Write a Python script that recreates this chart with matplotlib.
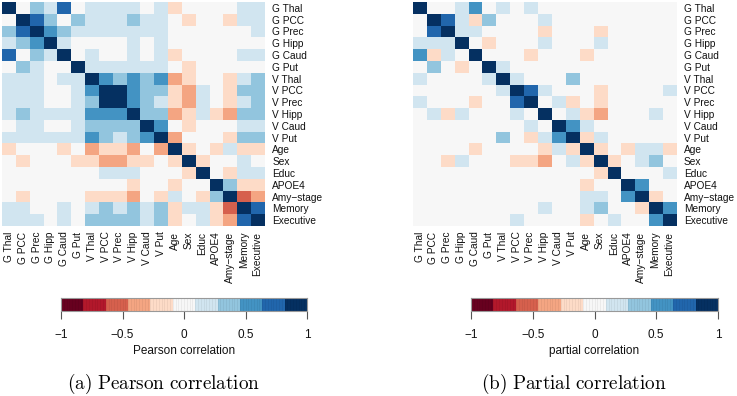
import numpy as np
import matplotlib
matplotlib.use("Agg")
import matplotlib.pyplot as plt
from matplotlib.colors import ListedColormap, BoundaryNorm

plt.rcParams['font.family'] = ['Liberation Sans', 'DejaVu Sans']
plt.rcParams['mathtext.fontset'] = 'cm'

labels = ["G Thal", "G PCC", "G Prec", "G Hipp", "G Caud", "G Put",
          "V Thal", "V PCC", "V Prec", "V Hipp", "V Caud", "V Put",
          "Age", "Sex", "Educ", "APOE4", "Amy\u2212stage", "Memory", "Executive"]

pearson = [
    [1.0, 0, .35, .2, .7, 0, .2, .2, .2, .2, 0, .2, -.2, 0, 0, 0, 0, .2, .2],
    [0, 1.0, .7, .35, 0, .35, .2, .2, .2, .35, .2, .2, 0, -.2, 0, 0, -.2, .2, .2],
    [.35, .7, 1.0, .55, .35, .2, .2, .2, .2, .2, .2, .2, 0, 0, 0, 0, 0, 0, .2],
    [.2, .35, .55, 1.0, .2, 0, 0, 0, 0, .2, 0, .2, 0, 0, 0, 0, 0, 0, 0],
    [.7, 0, .35, .2, 1.0, 0, .2, 0, 0, .2, 0, .2, -.2, 0, 0, 0, 0, .2, .2],
    [0, .35, .2, 0, 0, 1.0, .2, .2, .2, .2, .2, .2, 0, -.2, 0, 0, 0, 0, 0],
    [.2, .2, .2, 0, .2, .2, 1.0, .55, .35, .55, .35, .55, -.35, -.2, 0, 0, -.2, .2, .35],
    [.2, .2, .2, 0, 0, .2, .55, 1.0, .9, .55, .35, .35, -.2, -.35, .2, 0, -.2, .35, .35],
    [.2, .2, .2, 0, 0, .2, .35, .9, 1.0, .55, .35, .2, -.2, -.35, .2, 0, -.2, .2, .35],
    [.2, .35, .2, .2, .2, .2, .55, .55, .55, 1.0, .35, .35, -.35, -.2, .2, -.2, -.35, .35, .35],
    [0, .2, .2, 0, 0, .2, .35, .35, .35, .35, 1.0, .55, 0, -.2, 0, 0, 0, .2, .2],
    [.2, .2, .2, .2, .2, .2, .55, .35, .2, .35, .55, 1.0, -.35, 0, 0, 0, -.2, .35, .35],
    [-.2, 0, 0, 0, -.2, 0, -.35, -.2, -.2, -.35, 0, -.35, 1.0, -.2, 0, -.2, .2, -.2, -.2],
    [0, -.2, 0, 0, 0, -.2, -.2, -.35, -.35, -.2, -.2, 0, -.2, 1.0, -.2, 0, 0, .2, 0],
    [0, 0, 0, 0, 0, 0, 0, .2, .2, .2, 0, 0, 0, -.2, 1.0, 0, -.2, .2, .2],
    [0, 0, 0, 0, 0, 0, 0, 0, 0, -.2, 0, 0, -.2, 0, 0, 1.0, .35, -.2, -.2],
    [0, -.2, 0, 0, 0, 0, -.2, -.2, -.2, -.35, 0, -.2, .2, 0, -.2, .35, 1.0, -.55, -.35],
    [.2, .2, 0, 0, .2, 0, .2, .35, .2, .35, .2, .35, -.2, .2, .2, -.2, -.55, 1.0, .7],
    [.2, .2, .2, 0, .2, 0, .35, .35, .35, .35, .2, .35, -.2, 0, .2, -.2, -.35, .7, 1.0],
]

partial = [
    [1, 0, 0, .2, .55, 0, .2, 0, .2, 0, 0, 0, 0, 0, 0, 0, 0, 0, 0],
    [0, 1, .7, .2, -.2, .35, 0, 0, 0, .2, 0, 0, 0, 0, 0, 0, 0, 0, 0],
    [0, .7, 1, .2, .2, 0, 0, 0, 0, -.2, 0, 0, 0, -.2, 0, 0, 0, 0, 0],
    [.2, .2, .2, 1, 0, -.2, 0, 0, 0, .2, 0, 0, 0, .2, 0, 0, 0, 0, 0],
    [.55, -.2, .2, 0, 1, 0, 0, 0, -.2, 0, 0, 0, -.2, 0, 0, 0, 0, 0, 0],
    [0, .35, 0, -.2, 0, 1, .2, 0, 0, 0, 0, 0, 0, 0, 0, 0, 0, 0, 0],
    [.2, 0, 0, 0, 0, .2, 1, .2, 0, 0, 0, .35, 0, 0, 0, 0, 0, 0, 0],
    [0, 0, 0, 0, 0, 0, .2, 1, .7, .2, 0, 0, 0, -.2, 0, 0, 0, 0, .2],
    [.2, 0, 0, 0, -.2, 0, 0, .7, 1, 0, .2, -.2, 0, -.2, 0, 0, 0, 0, 0],
    [0, .2, -.2, .2, 0, 0, 0, .2, 0, 1, 0, .2, -.2, -.35, 0, 0, 0, .2, 0],
    [0, 0, 0, 0, 0, 0, 0, 0, .2, 0, 1, .55, .2, 0, 0, 0, 0, 0, 0],
    [0, 0, 0, 0, 0, 0, .35, 0, -.2, .2, .55, 1, -.2, .2, 0, 0, 0, 0, 0],
    [0, 0, 0, 0, -.2, 0, 0, 0, 0, -.2, .2, -.2, 1, -.2, 0, -.2, .2, .2, -.2],
    [0, 0, -.2, .2, 0, 0, 0, -.2, -.2, -.35, 0, .2, -.2, 1, -.2, 0, .2, .35, 0],
    [0, 0, 0, 0, 0, 0, 0, 0, 0, 0, 0, 0, 0, -.2, 1, 0, 0, 0, .2],
    [0, 0, 0, 0, 0, 0, 0, 0, 0, 0, 0, 0, -.2, 0, 0, 1, .55, 0, 0],
    [0, 0, 0, 0, 0, 0, 0, 0, 0, 0, 0, 0, .2, .2, 0, .55, 1, -.2, 0],
    [0, 0, 0, 0, 0, 0, 0, 0, 0, .2, 0, 0, .2, .35, 0, 0, -.2, 1, .55],
    [0, 0, 0, 0, 0, 0, 0, .2, 0, 0, 0, 0, -.2, 0, .2, 0, 0, .55, 1],
]

cbar_ticks = [-1, -0.5, 0, 0.5, 1]
cbar_ticklabels = ["\u22121", "\u22120.5", "0", "0.5", "1"]

colors = ["#67001F", "#B2182B", "#D6604D", "#F4A582", "#FDDBC7", "#F7F7F7",
          "#D1E5F0", "#92C5DE", "#4393C3", "#2166AC", "#053061"]
cmap = ListedColormap(colors)
bounds = np.linspace(-1, 1, 12)
norm = BoundaryNorm(bounds, cmap.N)

W, H = 737, 396
fig = plt.figure(figsize=(W / 100, H / 100), dpi=100)


def px(x0, y0, x1, y1):
    return [x0 / W, 1 - y1 / H, (x1 - x0) / W, (y1 - y0) / H]


def heat(rect, mat):
    ax = fig.add_axes(px(*rect))
    ax.imshow(np.array(mat), cmap=cmap, norm=norm, aspect='auto',
              interpolation='nearest')
    ax.set_xticks(range(len(labels)))
    ax.set_xticklabels(labels, rotation=90, fontsize=7.3, color='#111111')
    ax.set_yticks(range(len(labels)))
    ax.set_yticklabels(labels, fontsize=7.3, color='#111111')
    ax.yaxis.tick_right()
    ax.tick_params(axis='x', length=0, pad=4)
    ax.tick_params(axis='y', length=0, pad=5.5)
    for s in ax.spines.values():
        s.set_visible(False)
    return ax


def cbar(rect, label):
    ax = fig.add_axes(px(*rect))
    grad = np.linspace(-1, 1, 440).reshape(1, -1)
    ax.imshow(grad, cmap=cmap, norm=norm, aspect='auto',
              extent=[-1, 1, 0, 1], interpolation='nearest')
    for xv in np.linspace(-1, 1, 89)[1:-1]:
        ax.axvline(xv, color='black', alpha=0.06, lw=0.6)
    ax.set_xlim(-1, 1)
    ax.set_ylim(0, 1)
    ax.set_yticks([])
    ax.set_xticks(cbar_ticks)
    ax.set_xticklabels(cbar_ticklabels, fontsize=8.5, color='#111111')
    ax.tick_params(axis='x', length=5.5, width=0.8, color='#555555', pad=7.5)
    for s in ax.spines.values():
        s.set_color('#999999')
        s.set_linewidth(0.8)
    ax.set_xlabel(label, fontsize=8.5, labelpad=3, color='#111111')
    return ax


heat((2, 2, 264.5, 226), pearson)
heat((412.7, 2, 676, 226), partial)
cbar((61, 298, 307, 311), "Pearson correlation")
cbar((471, 298, 718, 311), "partial correlation")

fig.text(163.5 / W, 1 - 384 / H, r'$\mathrm{(a)\ Pearson\ correlation}$',
         ha='center', va='center', fontsize=13.8)
fig.text(573.5 / W, 1 - 384 / H, r'$\mathrm{(b)\ Partial\ correlation}$',
         ha='center', va='center', fontsize=13.8)

fig.savefig("out.png", dpi=100)
